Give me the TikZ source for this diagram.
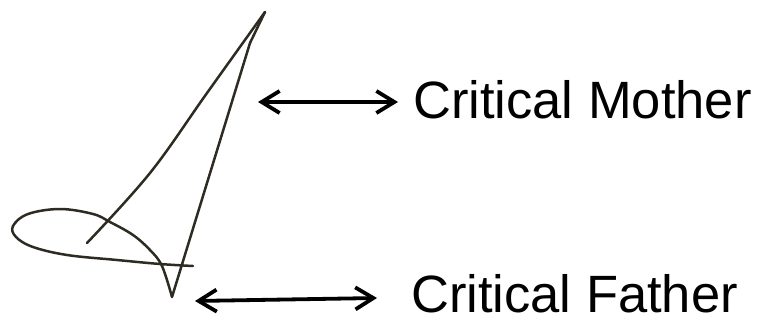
\documentclass[tikz,border=0pt]{standalone}
\usepackage{fontspec}
\setmainfont{Liberation Sans}
\usetikzlibrary{arrows.meta}
\definecolor{ink}{HTML}{2E2B22}
\tikzset{
  sketch/.style={draw=ink, line width=2.5pt, line cap=round, line join=round},
  dblarrow/.style={draw=black, line width=3.8pt, {Straight Barb[length=18pt,width=22pt,line width=3.8pt]}-{Straight Barb[length=18pt,width=22pt,line width=3.8pt]}},
  label/.style={inner sep=0pt, anchor=base west, text depth=0pt, font=\fontsize{52.5pt}{60pt}\selectfont}
}
\begin{document}
\begin{tikzpicture}[x=1pt,y=-1pt]
\useasboundingbox (0,0) rectangle (758,324);
% apex and the two legs
\coordinate (apex) at (265,12);
\coordinate (fork) at (250,43);
\coordinate (leftend) at (87,243);
\coordinate (foot) at (172,297);
\draw[sketch] plot[smooth, tension=0.6] coordinates {(apex) (207,93) (150,173) (leftend)};
\draw[sketch] (apex) -- (fork) -- (foot);
% the loop
\draw[sketch] plot[smooth, tension=0.6] coordinates {(193,266) (160,264) (117,260) (67,255) (33,247) (16,237) (13,226) (28,214) (60,209) (93,214) (110,222) (133,235) (150,250) (162,266) (foot)};
% arrows
\coordinate (ma) at (258,102);
\coordinate (mb) at (398,102);
\coordinate (fa) at (195,301);
\coordinate (fb) at (377,298);
\draw[dblarrow] (ma) -- (mb);
\draw[dblarrow] (fa) -- (fb);
% labels
\node[label] (mother) at (413,118) {Critical Mother};
\node[label] (father) at (411,312) {Critical Father};
\end{tikzpicture}
\end{document}
